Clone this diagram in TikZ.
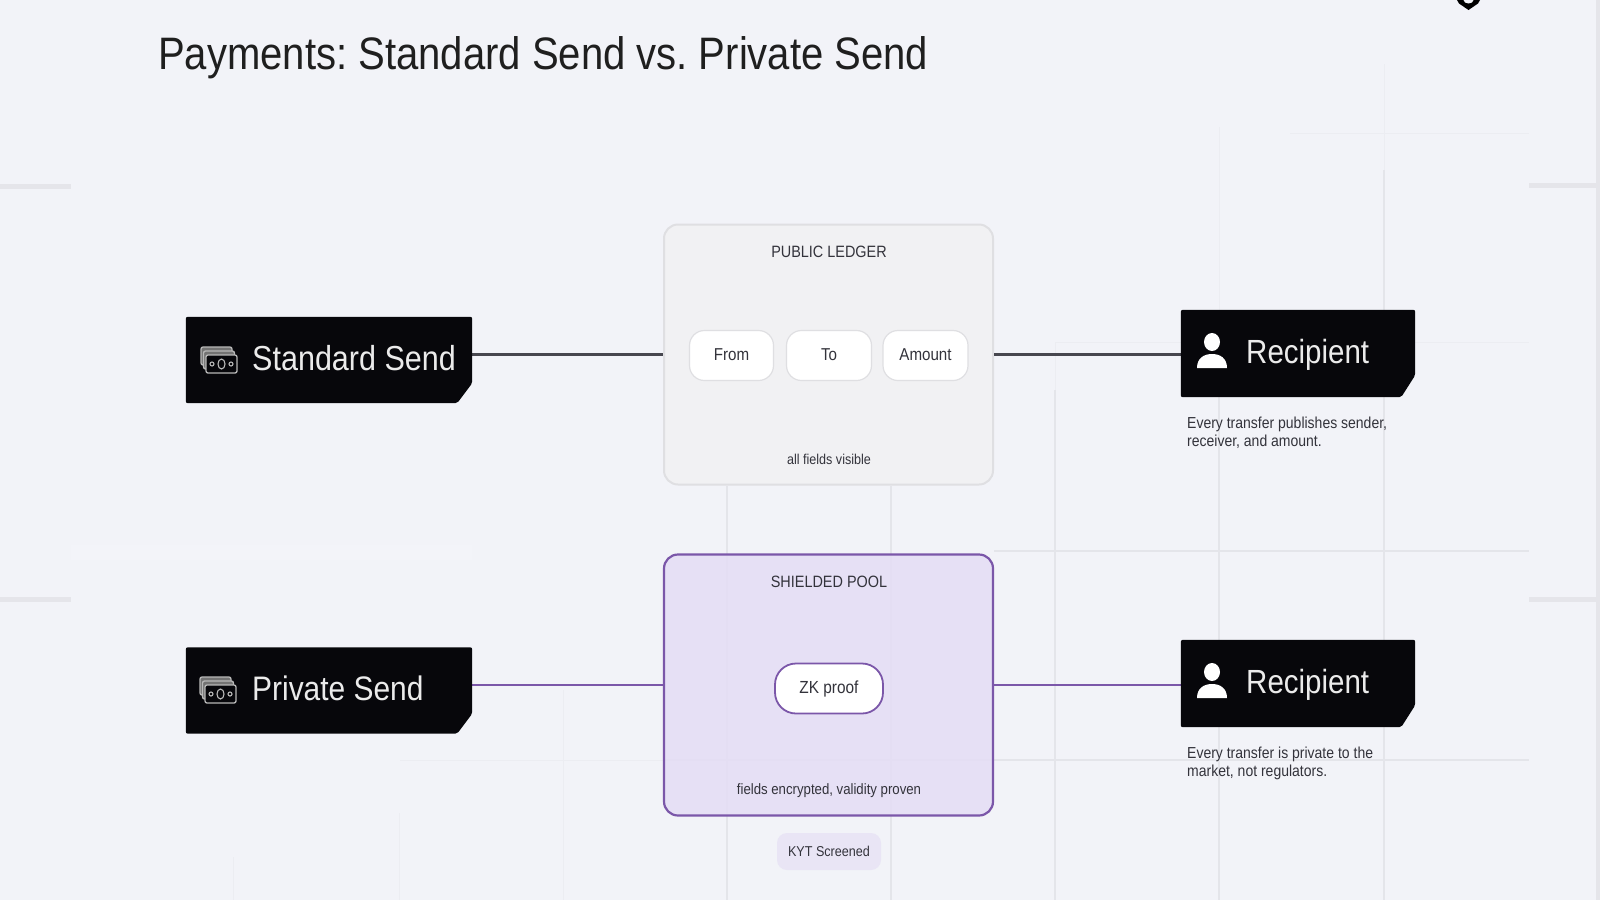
\documentclass[tikz,border=0pt]{standalone}
\usepackage{fontspec}
\setmainfont[FakeStretch=0.88]{Liberation Sans}
\definecolor{pagebg}{HTML}{F2F3F8}
\definecolor{tickgrey}{HTML}{E5E5EA}
\definecolor{gridgrey}{HTML}{E4E5EA}
\definecolor{nightbox}{HTML}{07070B}
\definecolor{inkgrey}{HTML}{33333B}
\definecolor{ledgerfill}{HTML}{F1F1F3}
\definecolor{ledgerline}{HTML}{DFDFE2}
\definecolor{poolfill}{HTML}{E5DEF5}
\definecolor{poolline}{HTML}{7B57A9}
\definecolor{kytfill}{HTML}{E9E5F5}
\tikzset{
 gridline/.style={gridgrey,line width=1.2pt},
 faintline/.style={gridgrey!45!pagebg,line width=1pt},
 sidetick/.style={fill=tickgrey,draw=none},
 sendbox/.style={inner sep=0pt,minimum width=286pt,minimum height=86pt},
 recipientbox/.style={inner sep=0pt,minimum width=234pt,minimum height=87pt},
 nightfill/.style={fill=nightbox,rounded corners=2pt},
 boxlabel/.style={anchor=base west,inner sep=0pt,text=white!92!black,font=\fontsize{33.5}{38}\selectfont},
 panellabel/.style={anchor=base,inner sep=0pt,text=inkgrey,font=\fontsize{16.4}{19}\selectfont},
 panelnote/.style={anchor=base,inner sep=0pt,text=inkgrey,font=\fontsize{14.3}{17}\selectfont},
 sidenote/.style={anchor=north west,inner sep=0pt,align=left,text=inkgrey,font=\fontsize{15.9}{18}\selectfont},
 ledgerpanel/.style={draw=ledgerline,fill=ledgerfill,line width=2pt,rounded corners=14pt,minimum width=329pt,minimum height=260pt},
 poolpanel/.style={draw=poolline,fill=poolfill,fill opacity=0.88,line width=2.2pt,rounded corners=14pt,minimum width=329pt,minimum height=261pt},
 fieldpill/.style={draw=ledgerline,fill=white,line width=1.2pt,rounded corners=15pt,minimum height=50pt,inner sep=0pt,text=inkgrey,font=\fontsize{17.2}{20}\selectfont},
 proofpill/.style={draw=poolline,fill=white,line width=1.8pt,rounded corners=21pt,minimum width=108pt,minimum height=50pt,inner sep=0pt,text=inkgrey,font=\fontsize{17.5}{20}\selectfont},
 kytpill/.style={fill=kytfill,rounded corners=10pt,minimum width=104pt,minimum height=37pt,inner sep=0pt,text=inkgrey,font=\fontsize{14.3}{17}\selectfont},
 plainwire/.style={draw=inkgrey!90,line width=2.2pt},
 poolwire/.style={draw=poolline,line width=2.2pt},
 noteicon/.style={draw=white!72!black,line width=1.3pt,rounded corners=2pt,fill=nightbox},
 noteback/.style={draw=white!72!black,line width=1.3pt,rounded corners=2pt,fill=white!45!black},
}
\begin{document}
\frenchspacing
\begin{tikzpicture}[x=1pt,y=-1pt]
 \useasboundingbox (0,0) rectangle (1600,900);
 \fill[pagebg] (0,0) rectangle (1600,900);

 % background lines
 \fill[white,opacity=0.15] (71,545) rectangle (472,560);
 \fill[sidetick] (0,183.5) rectangle (71,188.5);
 \fill[sidetick] (0,596.5) rectangle (71,601.5);
 \fill[sidetick] (1529,183) rectangle (1596,188);
 \fill[sidetick] (1529,596.5) rectangle (1596,601.5);
 \fill[tickgrey] (1596,0) rectangle (1600,900);

 \draw[faintline] (233,857) to (233,900);
 \draw[faintline] (399,813) to (399,900);
 \draw[faintline] (563,690) to (563,900);
 \draw[gridline] (727,486) to (727,900);
 \draw[gridline] (891,486) to (891,900);
 \draw[faintline] (1055,342) to (1055,390);
 \draw[gridline] (1055,390) to (1055,900);
 \draw[faintline] (1219,127) to (1219,310);
 \draw[gridline] (1219,397) to (1219,900);
 \draw[faintline] (1384,64) to (1384,170);
 \draw[gridline] (1384,170) to (1384,900);
 \draw[faintline] (1290,133) to (1529,133);
 \draw[faintline] (1056,342) to (1529,342);
 \draw[gridline] (994,551) to (1529,551);
 \draw[faintline] (400,760) to (663,760);
 \draw[gridline] (663,760) to (1529,760);

 % panels and connectors
 \node[sendbox] (standard) at (329,360){};
 \node[sendbox] (private) at (329,690.5){};
 \node[recipientbox] (recipienta) at (1298,353.5){};
 \node[recipientbox] (recipientb) at (1298,683.5){};
 \node[ledgerpanel] (ledger) at (828.5,354.5){};
 \node[poolpanel] (pool) at (828.5,685){};

 \draw[plainwire] (standard.east |- ledger.west) to (ledger.west);
 \draw[plainwire] (ledger.east) to (recipienta.west |- ledger.east);
 \draw[poolwire] (private.east |- pool.west) to (pool.west);
 \draw[poolwire] (pool.east) to (recipientb.west |- pool.east);

 % black boxes
 \fill[nightfill] (standard.north west) -- (standard.north east) -- ([yshift=20pt]standard.south east) -- ([xshift=-15pt]standard.south east) -- (standard.south west) -- cycle;
 \fill[nightfill] (private.north west) -- (private.north east) -- ([yshift=20pt]private.south east) -- ([xshift=-15pt]private.south east) -- (private.south west) -- cycle;
 \fill[nightfill] (recipienta.north west) -- (recipienta.north east) -- ([yshift=22pt]recipienta.south east) -- ([xshift=-14pt]recipienta.south east) -- (recipienta.south west) -- cycle;
 \fill[nightfill] (recipientb.north west) -- (recipientb.north east) -- ([yshift=22pt]recipientb.south east) -- ([xshift=-14pt]recipientb.south east) -- (recipientb.south west) -- cycle;

 % money icons
 \draw[noteback] (201,347) rectangle (232,365);
 \draw[noteback] (203.5,351) rectangle (234.5,369);
 \draw[noteicon] (206,355) rectangle (237,373);
 \draw[white!72!black,line width=1.1pt] (221.5,364) ellipse (3.5 and 5);
 \draw[white!72!black,line width=1.1pt] (212,364) circle (2);
 \draw[white!72!black,line width=1.1pt] (231,364) circle (2);

 \draw[noteback] (200,677) rectangle (231,695);
 \draw[noteback] (202.5,681) rectangle (233.5,699);
 \draw[noteicon] (205,685) rectangle (236,703);
 \draw[white!72!black,line width=1.1pt] (220.5,694) ellipse (3.5 and 5);
 \draw[white!72!black,line width=1.1pt] (211,694) circle (2);
 \draw[white!72!black,line width=1.1pt] (230,694) circle (2);

 % person icons
 \fill[white] (1212,342) ellipse (8 and 9);
 \fill[white] (1197,368) .. controls (1197,358) and (1204,354) .. (1212,354) .. controls (1220,354) and (1227,358) .. (1227,368) -- cycle;
 \fill[white] (1212,672) ellipse (8 and 9);
 \fill[white] (1197,698) .. controls (1197,688) and (1204,684) .. (1212,684) .. controls (1220,684) and (1227,688) .. (1227,698) -- cycle;

 % top corner mark
 \fill[black] (1457,0) -- (1459,3.5) -- (1468.5,10) -- (1478,3.5) -- (1480,0) -- cycle;
 \fill[pagebg] (1468.5,0) ellipse (5 and 3.5);

 % texts
 \node[anchor=base west,inner sep=0pt,text=black!88,font=\fontsize{45.5}{52}\selectfont] (title) at (158,69){Payments: Standard Send vs. Private Send};

 \node[boxlabel,font=\fontsize{34.7}{38}\selectfont] (standardtext) at (252,370){Standard Send};
 \node[boxlabel,font=\fontsize{34}{38}\selectfont] (privatetext) at (252,700.5){Private Send};
 \node[boxlabel] (recipientatext) at (1246,363){Recipient};
 \node[boxlabel] (recipientbtext) at (1246,693){Recipient};

 \node[panellabel] (ledgertitle) at (829,257){PUBLIC LEDGER};
 \node[fieldpill,minimum width=84pt] (from) at (731.5,355.5){\raisebox{1pt}{From}};
 \node[fieldpill,minimum width=85pt] (to) at (829,355.5){\raisebox{1pt}{To}};
 \node[fieldpill,minimum width=85pt] (amount) at (925.5,355.5){\raisebox{1pt}{Amount}};
 \node[panelnote] (ledgernote) at (829,464){all fields visible};

 \node[panellabel] (pooltitle) at (829,587){SHIELDED POOL};
 \node[proofpill] (proof) at (829,688.5){\raisebox{-1pt}{ZK proof}};
 \node[panelnote,font=\fontsize{15}{17}\selectfont] (poolnote) at (829,794){fields encrypted, validity proven};
 \node[kytpill] (kyt) at (829,851.5){KYT Screened};

 \node[sidenote] (recipientanote) at (1187,417){Every transfer publishes sender,\\receiver, and amount.};
 \node[sidenote] (recipientbnote) at (1187,747){Every transfer is private to the\\market, not regulators.};
\end{tikzpicture}
\end{document}
